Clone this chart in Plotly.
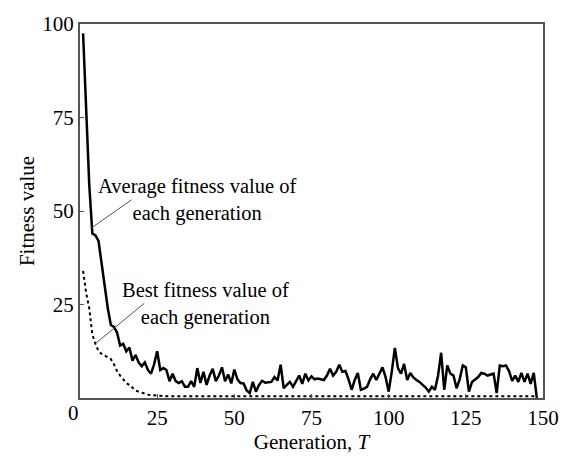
import plotly.graph_objects as go

generations = list(range(1, 149))

average_fitness = [
    97.5, 77, 57, 44, 43.5, 42, 36, 29, 24, 19.5,
    19, 17.5, 14, 14.5, 12.5, 13.5, 10, 11.5, 9.5, 8.5,
    9.5, 7.5, 6.5, 9, 12.5, 7.5, 8, 7.5, 4.5, 6.5,
    4.5, 4, 4.5, 3, 3, 4.5, 3, 8, 4, 7,
    3.5, 6, 7.8, 4.5, 6, 8.2, 4.5, 6.3, 3.9, 7.6,
    5, 4, 3.9, 2, 1.3, 4.3, 1.7, 3.5, 4.6, 4.1,
    4.2, 4.3, 5.6, 4.7, 8.9, 2.6, 3.5, 4.3, 3, 4.5,
    6, 3.8, 6.5, 4.7, 5.8, 5.0, 5.2, 5, 4.8, 6,
    7.8, 6, 7, 8.9, 7, 7.2, 5, 2.2, 4.8, 6.7,
    2.2, 2.5, 3, 5, 6.5, 4.8, 6.5, 8.2, 5.6, 1.7,
    7, 13.4, 8, 6.5, 9.1, 4.8, 6.7, 5.5, 4.8, 4.3,
    3.5, 2.8, 1.7, 3.0, 2.2, 6, 12.1, 2.2, 8.7, 6.5,
    6, 2.6, 5, 8.7, 8.2, 1.7, 4.3, 5, 5.6, 6.7,
    6.5, 6, 6.2, 6.5, 1.3, 8.7, 8.5, 8.7, 7.2, 4.6,
    6, 4.3, 6.7, 4.3, 6.5, 3.8, 6.7, 0,
]

best_fitness = [
    34, 28, 24, 17, 14.5, 12.5, 11.8, 11.3, 11, 10.4,
    9, 7.2, 6, 5, 4, 3.5, 2.7, 2, 1.7, 1.4,
    1.1, 0.9, 0.8, 0.7,
] + [0.5] * (148 - 24)

x_tick_vals = [25, 50, 75, 100, 125, 150]
y_tick_vals = [25, 50, 75, 100]

avg_label = "Average fitness value of<br>each generation"
best_label = "Best fitness value of<br>each generation"
x_title = "Generation, <i>T</i>"
y_title = "Fitness value"

FONT = "Liberation Serif, Times New Roman, serif"

fig = go.Figure()
fig.add_trace(go.Scatter(
    x=generations, y=best_fitness, mode="lines",
    line=dict(color="black", width=2, dash="dot"),
    showlegend=False,
))
fig.add_trace(go.Scatter(
    x=generations, y=average_fitness, mode="lines",
    line=dict(color="black", width=2.5),
    showlegend=False,
))

# leader lines
fig.add_shape(type="line", x0=3.75, y0=45.5, x1=16.7, y1=53,
              line=dict(color="#555555", width=1))
fig.add_shape(type="line", x0=5.2, y0=14.7, x1=20.8, y1=25.3,
              line=dict(color="#555555", width=1))

fig.add_annotation(x=38, y=52.9, text=avg_label, showarrow=False,
                   font=dict(family=FONT, size=20.5, color="black"),
                   xanchor="center", yanchor="middle", align="center")
fig.add_annotation(x=40.5, y=25.1, text=best_label, showarrow=False,
                   font=dict(family=FONT, size=20.5, color="black"),
                   xanchor="center", yanchor="middle", align="center")
fig.add_annotation(xref="x domain", yref="y domain", x=0, y=0,
                   xanchor="right", yanchor="top", xshift=1, yshift=-1,
                   text="0", showarrow=False,
                   font=dict(family=FONT, size=21, color="black"))

fig.update_layout(
    width=571, height=457,
    margin=dict(l=80, r=23, t=20, b=52),
    plot_bgcolor="white", paper_bgcolor="white",
    font=dict(family=FONT, size=21, color="black"),
    xaxis=dict(
        range=[0, 150], tickvals=x_tick_vals, ticks="inside", ticklen=4,
        tickcolor="#555555", showline=True, linecolor="#555555", linewidth=2,
        mirror=True, showgrid=False, zeroline=False,
        tickfont=dict(size=21),
        title=dict(text=x_title, standoff=0, font=dict(size=21)),
    ),
    yaxis=dict(
        range=[0, 100], tickvals=y_tick_vals, ticks="inside", ticklen=4,
        tickcolor="#555555", showline=True, linecolor="#555555", linewidth=2,
        mirror=True, showgrid=False, zeroline=False,
        tickfont=dict(size=21),
        title=dict(text=y_title, standoff=2, font=dict(size=21)),
    ),
)

fig.write_html("out.html")
